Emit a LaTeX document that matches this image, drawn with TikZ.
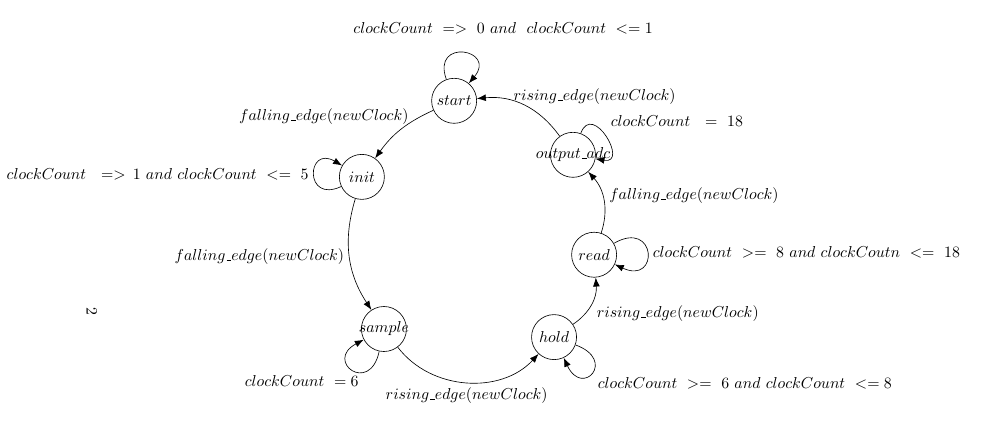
\documentclass[tikz,border=0pt]{standalone}
\usetikzlibrary{arrows.meta, positioning}
\newcommand{\stname}[1]{\makebox[0pt]{$#1$}}
\newcommand{\usc}{\kern.06em\vbox{\hrule width.3em}}

\begin{document}
\begin{tikzpicture}[
    stnode/.style={draw, circle, minimum size=1cm, inner sep=0pt},
    trans/.style={-{Latex[length=2mm, width=1.5mm]}},
    selfloop/.style={trans, loop, looseness=5, min distance=3mm}
  ]
            \useasboundingbox (0,0) rectangle (22.04,9.62);

            \node (start) [stnode] at (10.09,7.38) {\stname{start}};
            \node (init) [stnode] at (8.04,5.69) {\stname{init}};
            \node (sample) [stnode] at (8.53,2.31) {\stname{sample}};
            \node (hold) [stnode] at (12.31,2.13) {\stname{hold}};
            \node (read) [stnode] at (13.20,3.96) {\stname{read}};
            \node (output_adc) [stnode] at (12.73,6.18) {\stname{output\usc adc}};

            \node (pagenum) [rotate=-90] at (2.04,2.71) {2};

            % main cycle
            \draw[trans] (start) to[bend right=15] node (l_si) [above left, xshift=3mm] {$falling\usc edge(newClock)$} (init);
            \draw[trans] (init) to[bend right=25] node (l_is) [left] {$falling\usc edge(newClock)$} (sample);
            \draw[trans] (sample) to[bend right=50] node (l_sh) [below] {$rising\usc edge(newClock)$} (hold);
            \draw[trans] (hold) to[bend right=30] node (l_hr) [below right, yshift=1mm] {$rising\usc edge(newClock)$} (read);
            \draw[trans] (read) to[bend right=30] node (l_ro) [right, yshift=1mm] {$falling\usc edge(newClock)$} (output_adc);
            \draw[trans] (output_adc) to[bend right=30] node (l_os) [above right, xshift=-3.5mm, yshift=-1mm] {$rising\usc edge(newClock)$} (start);

            % self loops
            \draw[selfloop, out=110, in=50] (start) to node (c_start) [above, xshift=0.9cm, yshift=3mm] {$clockCount\ =>\ 0\ and\ \ clockCount\ <=1$} (start);
            \draw[selfloop, out=205, in=150] (init) to node (c_init) [left] {$clockCount\ \ =>\,1\ and\ clockCount\ <=\ 5$} (init);
            \draw[selfloop, out=258, in=208, looseness=6] (sample) to node (c_sample) [below left, xshift=2.5mm] {$clockCount\ =6$} (sample);
            \draw[selfloop, out=-20, in=-65, looseness=6.5] (hold) to node (c_hold) [below right] {$clockCount\ >=\ 6\ and\ clockCount\ <=8$} (hold);
            \draw[selfloop, out=30, in=-25, looseness=6] (read) to node (c_read) [right] {$clockCount\ >=\ 8\ and\ clockCoutn\ <=\ 18$} (read);
            \draw[selfloop, out=70, in=-10, looseness=3] (output_adc) to node (c_out) [above right, yshift=1mm] {$clockCount\ \ =\ 18$} (output_adc);
\end{tikzpicture}
\end{document}
